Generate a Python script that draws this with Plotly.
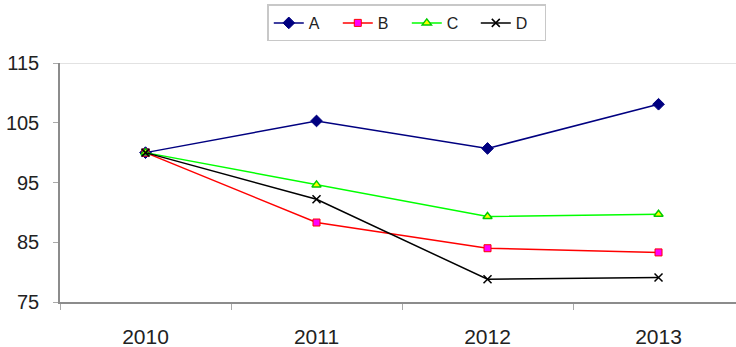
import plotly.graph_objects as go

years = ["2010", "2011", "2012", "2013"]
series_a = [100.0, 105.3, 100.7, 108.1]
series_b = [100.0, 88.3, 84.0, 83.3]
series_c = [100.0, 94.6, 89.3, 89.7]
series_d = [100.0, 92.2, 78.8, 79.1]
y_ticks = [75, 85, 95, 105, 115]

FONT = "Liberation Sans, Arial, sans-serif"

styles = [
    ("A", series_a, "#000080", dict(symbol="diamond", size=9, color="#000080",
                                    line=dict(color="#000080", width=1))),
    ("B", series_b, "#FF0000", dict(symbol="square", size=7, color="#FF00FF",
                                    line=dict(color="#FF0000", width=1))),
    ("C", series_c, "#00FF00", dict(symbol="triangle-up", size=8, color="#FFFF00",
                                    line=dict(color="#00CC00", width=1.5))),
    ("D", series_d, "#000000", dict(symbol="x-thin", size=8, color="#000000",
                                    line=dict(color="#000000", width=1.5))),
]

fig = go.Figure()
for name, vals, color, marker in styles:
    fig.add_trace(go.Scatter(
        x=years, y=vals, name=name, mode="lines+markers",
        line=dict(color=color, width=1.5), marker=marker,
    ))

# light border along the top of the plot area
fig.add_shape(type="line", xref="paper", yref="y", x0=0, x1=1, y0=115, y1=115,
              line=dict(color="#D9D9D9", width=1.5), layer="below")

fig.update_layout(
    width=736, height=347,
    margin=dict(l=60, r=0, t=63, b=45),
    paper_bgcolor="white", plot_bgcolor="white",
    font=dict(family=FONT, color="#222222"),
    showlegend=True,
    legend=dict(
        orientation="h", x=0.513, xanchor="center",
        y=1.09, yref="paper", yanchor="bottom",
        bordercolor="#C8C8C8", borderwidth=1.5,
        font=dict(size=16, family=FONT, color="#222222"),
        itemwidth=30, entrywidth=24, entrywidthmode="pixels",
        tracegroupgap=0,
    ),
)

fig.update_xaxes(
    type="category", range=[-0.5, 3.453],
    showgrid=False, zeroline=False,
    showline=True, linecolor="#8C8C8C", linewidth=1.5,
    ticks="outside", tickson="boundaries", ticklen=6, tickcolor="#AAAAAA",
    tickfont=dict(size=21, family=FONT, color="#222222"),
    ticklabelstandoff=15,
)
fig.update_yaxes(
    range=[75, 115], tickvals=y_ticks, ticktext=[str(v) for v in y_ticks],
    showgrid=False, zeroline=False,
    showline=True, linecolor="#8C8C8C", linewidth=1.5,
    ticks="outside", ticklen=5, tickcolor="#AAAAAA",
    tickfont=dict(size=20, family=FONT, color="#222222"),
    ticklabelstandoff=10,
)

fig.write_html("out.html")
